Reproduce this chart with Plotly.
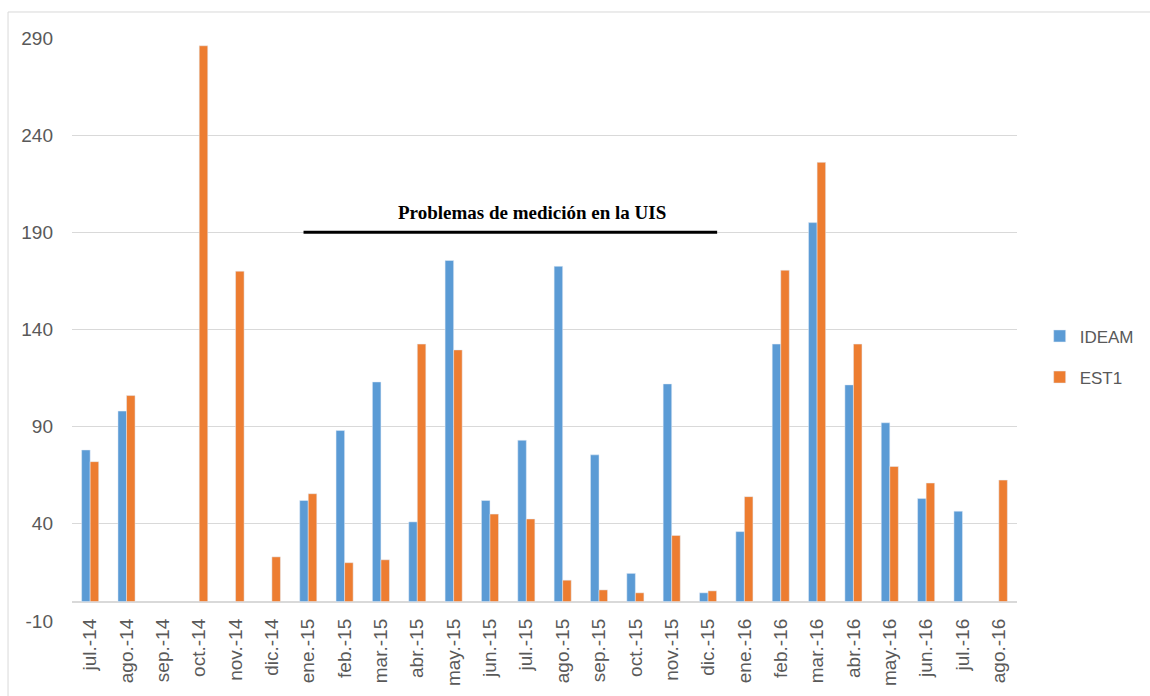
import plotly.graph_objects as go

# Monthly values for the two stations
months = ["jul.-14", "ago.-14", "sep.-14", "oct.-14", "nov.-14", "dic.-14",
          "ene.-15", "feb.-15", "mar.-15", "abr.-15", "may.-15", "jun.-15",
          "jul.-15", "ago.-15", "sep.-15", "oct.-15", "nov.-15", "dic.-15",
          "ene.-16", "feb.-16", "mar.-16", "abr.-16", "may.-16", "jun.-16",
          "jul.-16", "ago.-16"]
ideam = [78, 98, None, None, None, None, 52, 88, 113, 41, 175.5, 52,
         83, 172.5, 75.5, 14.5, 112, 4.5, 36, 132.5, 195, 111.5, 92, 53,
         46.5, None]
est1 = [72, 106, None, 286, 170, 23, 55.5, 20, 21.5, 132.5, 129.5, 45,
        42.5, 11, 6, 4.5, 34, 5.5, 54, 170.5, 226, 132.5, 69.5, 61,
        None, 62.5]
y_ticks = [-10, 40, 90, 140, 190, 240, 290]
y_tick_text = ["-10", "40", "90", "140", "190", "240", "290"]

# Span of the measurement-problem period, in category units
note_text = "Problemas de medición en la UIS"
note_x0, note_x1, note_y = 5.87, 17.25, 190

TEXT = "#595959"
GRID = "#d9d9d9"

fig = go.Figure()
fig.add_trace(go.Bar(x=months, y=ideam, name="IDEAM", marker_color="#5B9BD5",
                     legendgroup="a"))
fig.add_trace(go.Bar(x=months, y=est1, name="EST1", marker_color="#ED7D31",
                     legendgroup="b"))

# Horizontal bar marking the period and its label
fig.add_shape(type="line", xref="x", yref="y", x0=note_x0, x1=note_x1,
              y0=note_y, y1=note_y, line=dict(color="black", width=3))
fig.add_annotation(x=(note_x0 + note_x1) / 2 + 0.59, y=note_y + 10.3,
                   xref="x", yref="y", text="<b>" + note_text + "</b>",
                   showarrow=False,
                   font=dict(family="Liberation Serif", size=19, color="black"))

# Chart-area frame
fig.add_shape(type="rect", xref="paper", yref="paper",
              x0=-0.0677, x1=1.16, y0=-0.2, y1=1.0446,
              line=dict(color=GRID, width=1), layer="below")

fig.update_layout(
    width=1150, height=696,
    margin=dict(l=72, r=133, t=38, b=75, autoexpand=False),
    paper_bgcolor="white", plot_bgcolor="white",
    barmode="group", bargap=0.53, bargroupgap=0,
    font=dict(family="Liberation Sans", color=TEXT, size=17),
    legend=dict(x=1.024, y=0.453, xanchor="left", yanchor="middle",
                tracegroupgap=16, font=dict(size=17, color=TEXT),
                itemwidth=30, bgcolor="rgba(0,0,0,0)"),
    showlegend=True,
)
fig.update_xaxes(type="category", categoryorder="array", categoryarray=months,
                 tickangle=-90, showgrid=False, showline=False, ticks="",
                 anchor="free", position=0.012,
                 tickfont=dict(size=19, color=TEXT))
fig.update_yaxes(range=[-10, 290], tickvals=y_ticks, ticktext=y_tick_text,
                 showgrid=True, gridcolor=GRID, gridwidth=1, zeroline=True,
                 zerolinecolor=GRID, zerolinewidth=1.5, showline=False,
                 ticks="", ticklabelstandoff=18,
                 tickfont=dict(size=19, color=TEXT))

fig.write_html("out.html")
